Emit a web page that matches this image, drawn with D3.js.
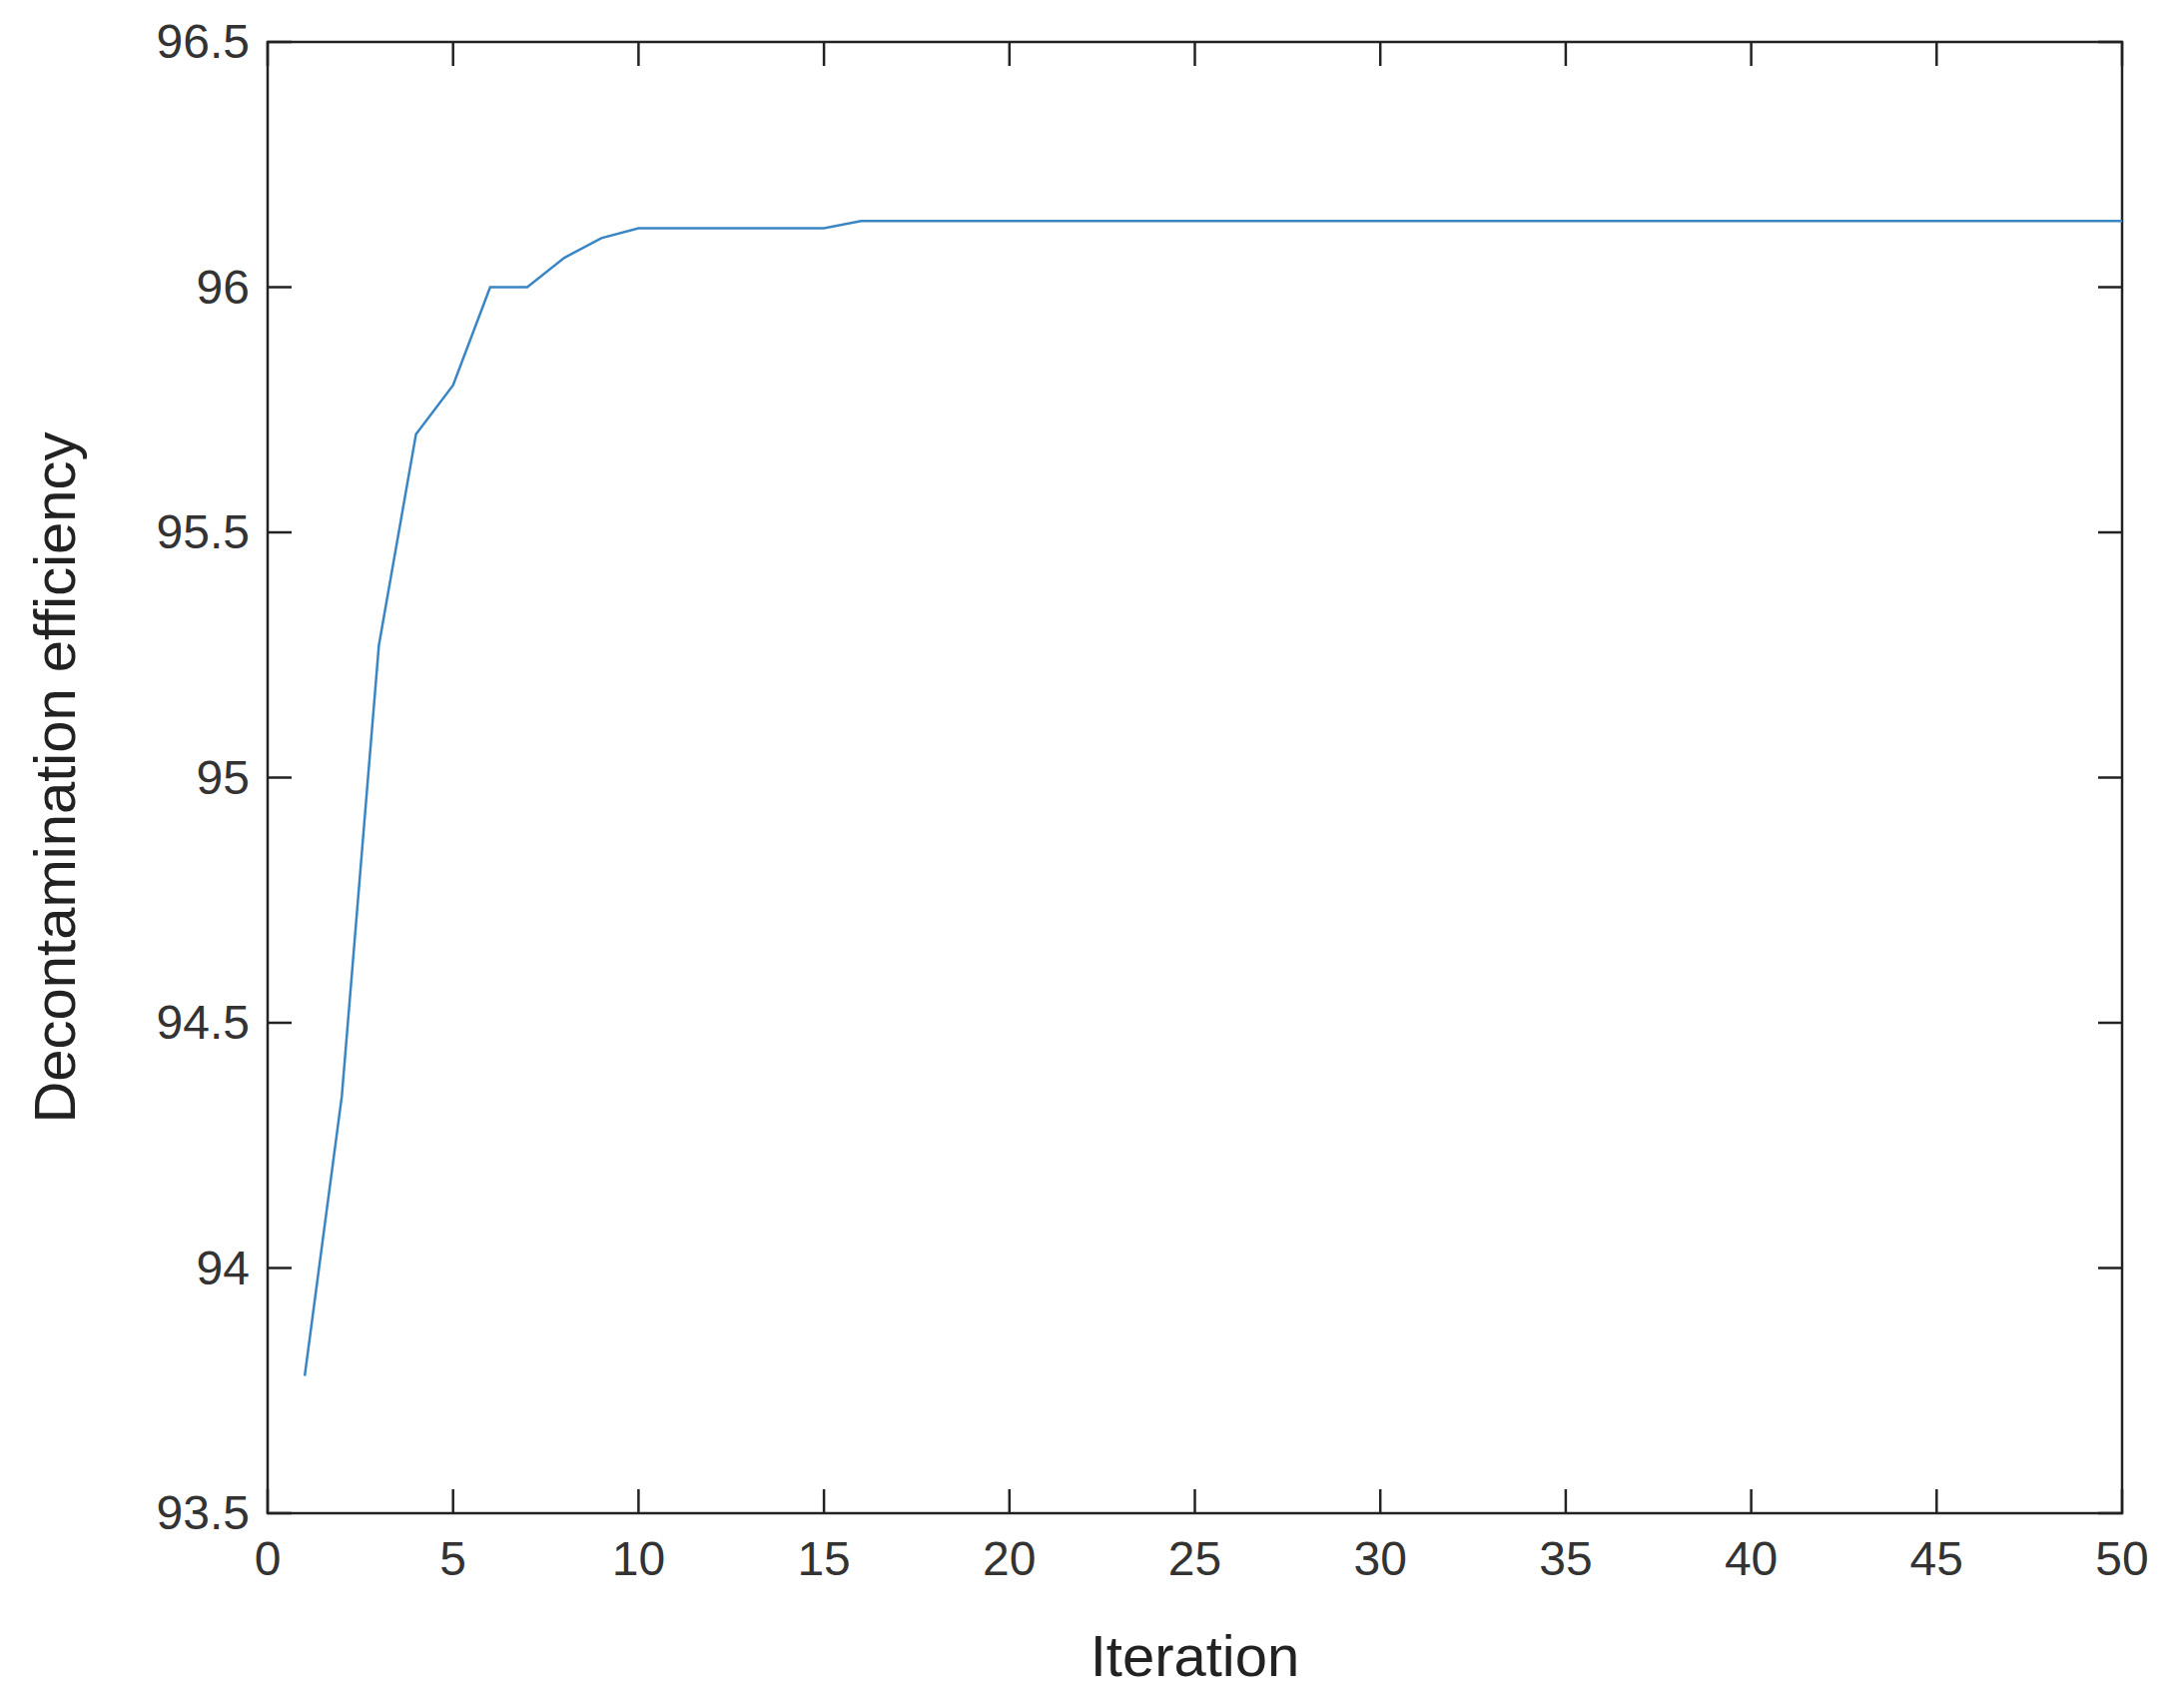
<!DOCTYPE html>
<html><head><meta charset="utf-8">
<script src="https://cdn.jsdelivr.net/npm/d3@7"></script>
<style>body{margin:0;background:#fff}svg{display:block}</style>
</head><body>
<script>
const iterations = d3.range(1, 51);
const efficiency = [93.78,94.35,95.27,95.70,95.80,96.00,96.00,96.06,96.10,96.12,
96.12,96.12,96.12,96.12,96.12,96.135,96.135,96.135,96.135,96.135,
96.135,96.135,96.135,96.135,96.135,96.135,96.135,96.135,96.135,96.135,
96.135,96.135,96.135,96.135,96.135,96.135,96.135,96.135,96.135,96.135,
96.135,96.135,96.135,96.135,96.135,96.135,96.135,96.135,96.135,96.135];
const xTicks = d3.range(0, 51, 5);
const yTicks = [93.5,94,94.5,95,95.5,96,96.5];

const W=2187,H=1694, L=268,R=2125,T=42,B=1515;
const font="'Liberation Sans Narrow','Liberation Sans',Arial,sans-serif";
const svg=d3.select("body").append("svg").attr("width",W).attr("height",H);
const x=d3.scaleLinear().domain([0,50]).range([L,R]);
const y=d3.scaleLinear().domain([93.5,96.5]).range([B,T]);
const tl=24;
const g=svg.append("g").attr("stroke","#222").attr("stroke-width",2.5);
g.append("rect").attr("x",L).attr("y",T).attr("width",R-L).attr("height",B-T).attr("fill","none");
xTicks.forEach(v=>{g.append("line").attr("x1",x(v)).attr("x2",x(v)).attr("y1",B).attr("y2",B-tl);
 g.append("line").attr("x1",x(v)).attr("x2",x(v)).attr("y1",T).attr("y2",T+tl);});
yTicks.forEach(v=>{g.append("line").attr("y1",y(v)).attr("y2",y(v)).attr("x1",L).attr("x2",L+tl);
 g.append("line").attr("y1",y(v)).attr("y2",y(v)).attr("x1",R).attr("x2",R-tl);});
svg.append("g").selectAll("text").data(xTicks).join("text")
 .attr("x",d=>x(d)).attr("y",B+62).attr("text-anchor","middle")
 .attr("font-family",font).attr("font-size",48).attr("fill","#333").text(d=>d);
svg.append("g").selectAll("text").data(yTicks).join("text")
 .attr("x",L-18).attr("y",d=>y(d)+16).attr("text-anchor","end")
 .attr("font-family",font).attr("font-size",48).attr("fill","#333").text(d=>d);
svg.append("text").attr("x",(L+R)/2).attr("y",1690-12).attr("text-anchor","middle")
 .attr("font-family",font).attr("font-size",58).attr("fill","#222").text("Iteration");
svg.append("text").attr("transform",`translate(${75},${(T+B)/2}) rotate(-90)`).attr("text-anchor","middle")
 .attr("font-family",font).attr("font-size",58).attr("fill","#222").text("Decontamination efficiency");
svg.append("path").datum(efficiency).attr("fill","none").attr("stroke","#3a85c4").attr("stroke-width",2.5)
 .attr("d",d3.line().x((d,i)=>x(iterations[i])).y(d=>y(d)));
</script></body></html>
